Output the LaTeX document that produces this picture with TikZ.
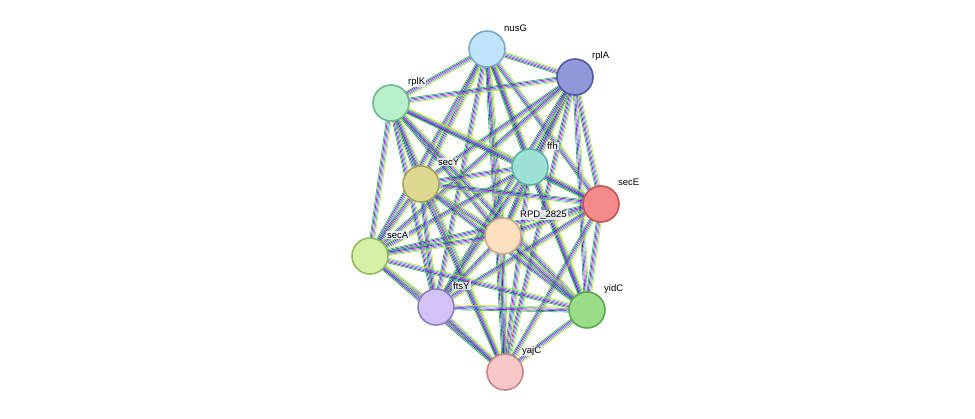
\documentclass[tikz,border=0pt]{standalone}
\usepackage{fontspec}
\setmainfont{Liberation Sans}
\usetikzlibrary{calc}
\begin{document}
\begin{tikzpicture}[x=1pt,y=-1pt,
  nd/.style={circle,minimum size=36pt,inner sep=0pt,line width=1.6pt},
  lb/.style={font=\fontsize{9.5pt}{10pt}\selectfont,anchor=west,inner sep=1pt,fill=white,fill opacity=0.75,text opacity=1}]
\useasboundingbox (0,0) rectangle (975,418);
\fill[white] (0,0) rectangle (975,418);
\definecolor{eg}{HTML}{22B22E}\definecolor{eb}{HTML}{2233DD}\definecolor{em}{HTML}{E022D8}
\definecolor{ey}{HTML}{C8E01E}\definecolor{ec}{HTML}{22B8D0}
\coordinate (nusG) at (487,49);
\coordinate (rplA) at (575,77);
\coordinate (rplK) at (391,103);
\coordinate (ffh) at (530,167);
\coordinate (secE) at (601,204);
\coordinate (secY) at (421,184);
\coordinate (rpd) at (503,236);
\coordinate (secA) at (370,256);
\coordinate (ftsY) at (436,307);
\coordinate (yidC) at (587,310);
\coordinate (yajC) at (505,372);
\foreach \a/\b in {nusG/rplA,nusG/rplK,nusG/ffh,nusG/secE,nusG/secY,nusG/rpd,nusG/secA,nusG/ftsY,nusG/yidC,nusG/yajC,
 rplA/rplK,rplA/ffh,rplA/secE,rplA/secY,rplA/rpd,rplA/secA,rplA/ftsY,rplA/yidC,rplA/yajC,
 rplK/ffh,rplK/secE,rplK/secY,rplK/rpd,rplK/secA,rplK/ftsY,rplK/yidC,rplK/yajC,
 ffh/secE,ffh/secY,ffh/rpd,ffh/secA,ffh/ftsY,ffh/yidC,ffh/yajC,
 secE/secY,secE/rpd,secE/secA,secE/ftsY,secE/yidC,secE/yajC,
 secY/rpd,secY/secA,secY/ftsY,secY/yidC,secY/yajC,
 rpd/secA,rpd/ftsY,rpd/yidC,rpd/yajC,
 secA/ftsY,secA/yidC,secA/yajC,ftsY/yidC,ftsY/yajC,yidC/yajC}{
 \foreach \c/\s in {eg/-2.4,eb/-1.2,em/0,ec/1.2,ey/2.4}{
  \draw[\c,line width=0.6pt] ($(\a)!\s pt!90:(\b)$) -- ($(\b)!\s pt!-90:(\a)$);
 }}
\node[nd,fill={rgb,255:red,191;green,227;blue,248},draw={rgb,255:red,123;green,169;blue,201}] (n1) at (nusG) {};
\node[nd,fill={rgb,255:red,144;green,152;blue,217},draw={rgb,255:red,78;green,90;blue,168}] (n2) at (rplA) {};
\node[nd,fill={rgb,255:red,184;green,240;blue,204},draw={rgb,255:red,111;green,184;blue,138}] (n3) at (rplK) {};
\node[nd,fill={rgb,255:red,157;green,224;blue,214},draw={rgb,255:red,95;green,176;blue,166}] (n4) at (ffh) {};
\node[nd,fill={rgb,255:red,245;green,138;blue,138},draw={rgb,255:red,197;green,85;blue,85}] (n5) at (secE) {};
\node[nd,fill={rgb,255:red,220;green,216;blue,144},draw={rgb,255:red,168;green,164;blue,90}] (n6) at (secY) {};
\node[nd,fill={rgb,255:red,253;green,224;blue,192},draw={rgb,255:red,200;green,170;blue,136}] (n7) at (rpd) {};
\node[nd,fill={rgb,255:red,214;green,240;blue,168},draw={rgb,255:red,147;green,187;blue,98}] (n8) at (secA) {};
\node[nd,fill={rgb,255:red,210;green,194;blue,248},draw={rgb,255:red,144;green,128;blue,192}] (n9) at (ftsY) {};
\node[nd,fill={rgb,255:red,153;green,221;blue,136},draw={rgb,255:red,90;green,168;blue,80}] (n10) at (yidC) {};
\node[nd,fill={rgb,255:red,248;green,200;blue,200},draw={rgb,255:red,192;green,136;blue,136}] (n11) at (yajC) {};
\node[lb] (l1) at (503,28) {nusG};
\node[lb] (l2) at (591,56) {rplA};
\node[lb] (l3) at (407,82) {rplK};
\node[lb] (l4) at (546,146) {ffh};
\node[lb] (l5) at (617,182) {secE};
\node[lb] (l6) at (437,162) {secY};
\node[lb] (l7) at (519,215) {RPD\_2825};
\node[lb] (l8) at (386,235) {secA};
\node[lb] (l9) at (452,286) {ftsY};
\node[lb] (l10) at (603,289) {yidC};
\node[lb] (l11) at (521,351) {yajC};
\end{tikzpicture}
\end{document}
